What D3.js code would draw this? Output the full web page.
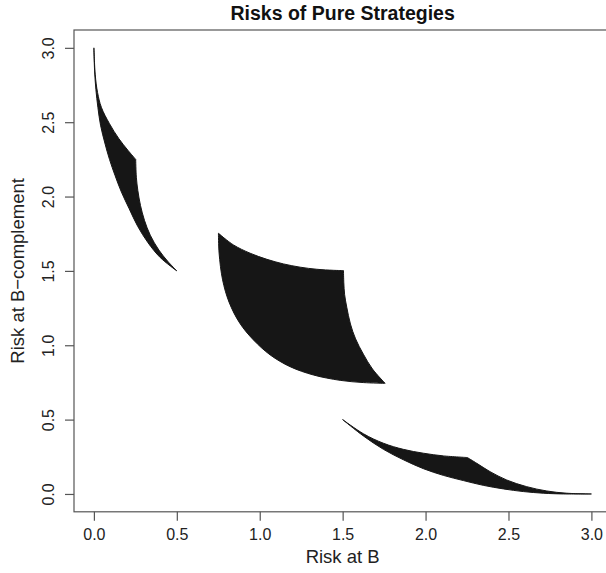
<!DOCTYPE html>
<html>
<head>
<meta charset="utf-8">
<script src="https://cdn.jsdelivr.net/npm/d3@7"></script>
<style>
  html, body { margin: 0; padding: 0; background: #fff; }
  text { font-family: "Liberation Sans", Arial, Helvetica, sans-serif; }
</style>
</head>
<body>
<svg id="chart" width="606" height="573"></svg>
<script>
// ---- Data ----
const title = "Risks of Pure Strategies";
const xLabel = "Risk at B";
const yLabel = "Risk at B\u2212complement";
const xTicks = [0, 0.5, 1, 1.5, 2, 2.5, 3];
const yTicks = [0, 0.5, 1, 1.5, 2, 2.5, 3];

// Region 1: left (lower) edge and right (upper) edge, top to bottom
const region1Left = [[0,3.0],[0.004,2.85],[0.012,2.72],[0.024,2.60],[0.040,2.48],[0.066,2.36],[0.094,2.25],[0.128,2.14],[0.166,2.03],[0.212,1.92],[0.264,1.80],[0.326,1.69],[0.40,1.59],[0.5,1.5]];
const region1Upper = [[0,3.0],[0.008,2.82],[0.022,2.70],[0.045,2.60],[0.094,2.49],[0.150,2.39],[0.206,2.31],[0.252,2.25]];
const region1Right = [[0.252,2.25],[0.256,2.13],[0.265,2.04],[0.281,1.94],[0.305,1.84],[0.340,1.74],[0.392,1.64],[0.445,1.565],[0.5,1.5]];

// Region 2: upper edge, right edge, lower-left edge
const region2Top = [[0.751,1.753],[0.841,1.675],[0.942,1.619],[1.043,1.578],[1.143,1.547],[1.244,1.525],[1.344,1.511],[1.444,1.504],[1.505,1.502]];
const region2Right = [[1.505,1.502],[1.507,1.42],[1.512,1.34],[1.525,1.255],[1.547,1.143],[1.578,1.043],[1.625,0.94],[1.680,0.84],[1.756,0.744]];
const region2Lower = [[0.751,1.753],[0.755,1.62],[0.776,1.44],[0.815,1.29],[0.880,1.148],[0.962,1.036],[1.063,0.935],[1.183,0.856],[1.324,0.800],[1.485,0.764],[1.625,0.749],[1.756,0.744]];

// Region 3: upper edge (to the kink), falling edge, lower edge, left to right
const region3Top = [[1.5,0.5],[1.625,0.405],[1.746,0.341],[1.866,0.300],[1.987,0.274],[2.107,0.256],[2.252,0.245]];
const region3Fall = [[2.252,0.245],[2.309,0.206],[2.389,0.150],[2.489,0.094],[2.610,0.049],[2.731,0.020],[2.851,0.005],[3.0,0.0]];
const region3Bottom = [[1.5,0.5],[1.625,0.390],[1.746,0.300],[1.866,0.230],[1.987,0.170],[2.107,0.125],[2.228,0.090],[2.348,0.058],[2.469,0.034],[2.590,0.016],[2.710,0.005],[2.831,0.0],[3.0,0.0]];

// ---- Layout ----
const svg = d3.select("#chart");
const padL = 74, padR = 611.3, padT = 30, padB = 511.8;
const x = d3.scaleLinear().domain([-0.12, 3.12]).range([padL, padR]);
const y = d3.scaleLinear().domain([-0.12, 3.12]).range([padB, padT]);
const ink = "#161616";
const fontFam = "'Liberation Sans', Arial, Helvetica, sans-serif";

const edge = d3.line().x(d => x(d[0])).y(d => y(d[1])).curve(d3.curveCatmullRom.alpha(0.5));
const rev = a => a.slice().reverse();
// join several smooth edges into one closed outline
const outline = edges => edges.map((e, i) => {
  const p = edge(e);
  return i === 0 ? p : "L" + p.slice(1);
}).join("") + "Z";

const regions = [
  [region1Left, rev(region1Right), rev(region1Upper)],
  [region2Top, region2Right, rev(region2Lower)],
  [region3Top, region3Fall, rev(region3Bottom)]
];

svg.append("g").selectAll("path").data(regions).join("path")
  .attr("d", outline)
  .attr("fill", ink)
  .attr("stroke", ink)
  .attr("stroke-width", 1)
  .attr("stroke-linejoin", "round");

// Box
svg.append("rect")
  .attr("x", padL).attr("y", padT)
  .attr("width", padR - padL).attr("height", padB - padT)
  .attr("fill", "none").attr("stroke", "#555").attr("stroke-width", 1.2);

// X axis
const xAxis = svg.append("g").attr("transform", `translate(0,${padB})`)
  .call(d3.axisBottom(x).tickValues(xTicks).tickFormat(d3.format(".1f")).tickSize(9).tickSizeOuter(0).tickPadding(8));
xAxis.select(".domain").remove();
xAxis.selectAll("line").attr("stroke", "#555").attr("stroke-width", 1.2);
xAxis.selectAll("text").attr("font-size", 16).attr("fill", "#222").style("font-family", fontFam);

// Y axis
const yAxis = svg.append("g").attr("transform", `translate(${padL},0)`)
  .call(d3.axisLeft(y).tickValues(yTicks).tickFormat(d3.format(".1f")).tickSize(9).tickSizeOuter(0));
yAxis.select(".domain").remove();
yAxis.selectAll("line").attr("stroke", "#555").attr("stroke-width", 1.2);
yAxis.selectAll("text")
  .attr("x", null).attr("dy", null)
  .attr("text-anchor", "middle")
  .attr("transform", "translate(-20,0) rotate(-90)")
  .attr("font-size", 16).attr("fill", "#222").style("font-family", fontFam);

// Title and labels
svg.append("text")
  .attr("x", (padL + padR) / 2).attr("y", 20)
  .attr("text-anchor", "middle")
  .attr("font-size", 19.5).attr("font-weight", "bold").attr("fill", "#111")
  .text(title);

svg.append("text")
  .attr("x", (padL + padR) / 2).attr("y", 563)
  .attr("text-anchor", "middle")
  .attr("font-size", 18.5).attr("fill", "#222")
  .text(xLabel);

svg.append("text")
  .attr("transform", `translate(24,${(padT + padB) / 2}) rotate(-90)`)
  .attr("text-anchor", "middle")
  .attr("font-size", 18.5).attr("fill", "#222")
  .text(yLabel);
</script>
</body>
</html>
